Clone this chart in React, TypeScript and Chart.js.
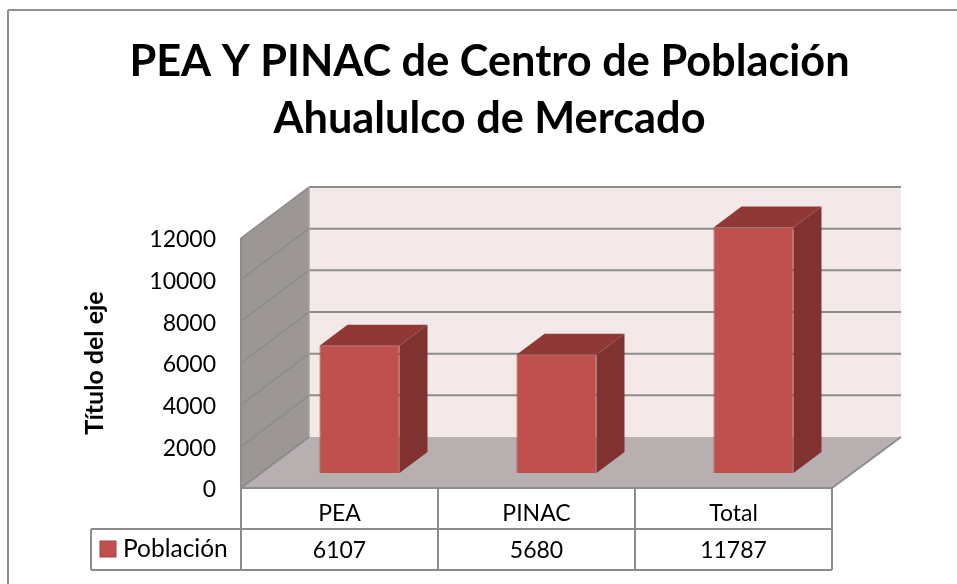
import React, { useEffect, useRef } from "react";
import { Chart, registerables } from "chart.js";

Chart.register(...registerables);

const categories = ["PEA", "PINAC", "Total"];
const poblacion = [6107, 5680, 11787];
const seriesName = "Población";
const titleLines = ["PEA Y PINAC de Centro de Población", "Ahualulco de Mercado"];
const axisTitle = "Título del eje";

const FONT = "Lato, Carlito, 'Open Sans', sans-serif";
const DEPTH_X = 68;
const DEPTH_Y = 51;
const BAR_SHIFT_X = 20;
const BAR_SHIFT_Y = 15;
const BAR_DEPTH_X = 28;
const BAR_DEPTH_Y = 21;
const LINE = "#8c8c8c";

function poly(ctx: CanvasRenderingContext2D, pts: number[][], fill: string) {
  ctx.beginPath();
  pts.forEach((p, i) => (i ? ctx.lineTo(p[0], p[1]) : ctx.moveTo(p[0], p[1])));
  ctx.closePath();
  ctx.fillStyle = fill;
  ctx.fill();
}

function seg(ctx: CanvasRenderingContext2D, x0: number, y0: number, x1: number, y1: number, color: string, w: number) {
  ctx.strokeStyle = color;
  ctx.lineWidth = w;
  ctx.beginPath();
  ctx.moveTo(x0, y0);
  ctx.lineTo(x1, y1);
  ctx.stroke();
}

const scene3d = {
  id: "scene3d",
  afterLayout(chart: any) {
    // the reference's tick digits sit about 2px below the Lato middle baseline
    chart.scales.y.getLabelItems().forEach((item: any) => {
      item.options.translation[1] += 2;
    });
  },
  beforeDraw(chart: any) {
    const { ctx, width, height } = chart;
    ctx.save();
    ctx.fillStyle = "#ffffff";
    ctx.fillRect(0, 0, width, height);
    seg(ctx, 8, 10, width, 10, "#8e8e8e", 2);
    seg(ctx, 8, 10, 8, height, "#8e8e8e", 2);
    ctx.restore();
  },
  beforeDatasetsDraw(chart: any) {
    const { ctx, chartArea: a, scales } = chart;
    const y = scales.y;
    const L = a.left, R = a.right, T = a.top, B = a.bottom;
    const dx = DEPTH_X, dy = DEPTH_Y;
    ctx.save();
    // back wall, side wall, floor
    poly(ctx, [[L + dx, T - dy], [R + dx + 1, T - dy], [R + dx + 1, B - dy], [L + dx, B - dy]], "#f4e9e9");
    poly(ctx, [[L, T], [L + dx, T - dy], [L + dx, B - dy], [L, B]], "#9c9695");
    poly(ctx, [[L, B], [L + dx, B - dy], [R + dx + 1, B - dy], [R, B]], "#b8afb0");
    // gridlines from the value scale
    y.ticks.forEach((t: any) => {
      const py = y.getPixelForValue(t.value);
      if (t.value > 0) seg(ctx, L + dx, py - dy, R + dx + 1, py - dy, LINE, 2);
      seg(ctx, L, py, L + dx, py - dy, LINE, t.value === 0 ? 2 : 1.5);
    });
    seg(ctx, L + dx, T - dy, L + dx, B - dy, "#a8a3a3", 1.5);
    seg(ctx, L, T, L, B, LINE, 2);
    seg(ctx, R, B, R + dx + 1, B - dy, LINE, 2);

    // data table
    const xs = scales.x;
    const rows = [B, 529, 570];
    const left = 91;
    const step = (R - L) / categories.length;
    seg(ctx, L, rows[0], R, rows[0], LINE, 2);
    seg(ctx, left, rows[1], R, rows[1], LINE, 2);
    seg(ctx, left, rows[2], R, rows[2], LINE, 2);
    seg(ctx, left, rows[1], left, rows[2], LINE, 2);
    for (let i = 0; i <= categories.length; i++) seg(ctx, L + i * step, rows[0], L + i * step, rows[2], LINE, 2);
    ctx.fillStyle = "#000";
    ctx.font = `23px ${FONT}`;
    ctx.textAlign = "center";
    ctx.textBaseline = "alphabetic";
    poblacion.forEach((v, i) => ctx.fillText(String(v), xs.getPixelForValue(i), 558));
    ctx.fillStyle = "#c0504d";
    ctx.fillRect(100, 541, 16, 16);
    ctx.strokeStyle = "#a5423f";
    ctx.lineWidth = 1;
    ctx.strokeRect(100, 541, 16, 16);
    ctx.fillStyle = "#000";
    ctx.textAlign = "left";
    ctx.font = `24.5px ${FONT}`;
    ctx.fillText(seriesName, 123, 557);

    // bar sides and tops
    chart.getDatasetMeta(0).data.forEach((b: any) => {
      const x1 = b.x + b.width / 2 + BAR_SHIFT_X;
      const x0 = b.x - b.width / 2 + BAR_SHIFT_X;
      const yt = b.y - BAR_SHIFT_Y;
      const yb = b.base - BAR_SHIFT_Y;
      poly(ctx, [[x1, yt], [x1 + BAR_DEPTH_X, yt - BAR_DEPTH_Y], [x1 + BAR_DEPTH_X, yb - BAR_DEPTH_Y], [x1, yb]], "#7f3230");
      poly(ctx, [[x0, yt], [x0 + BAR_DEPTH_X, yt - BAR_DEPTH_Y], [x1 + BAR_DEPTH_X, yt - BAR_DEPTH_Y], [x1, yt]], "#8f3836");
    });
    ctx.restore();
  },
  beforeDatasetDraw(chart: any) {
    chart.ctx.save();
    chart.ctx.translate(BAR_SHIFT_X, -BAR_SHIFT_Y);
  },
  afterDatasetDraw(chart: any) {
    chart.ctx.restore();
  },
};

export default function App() {
  const ref = useRef<HTMLCanvasElement | null>(null);
  useEffect(() => {
    if (!ref.current) return;
    const chart = new Chart(ref.current, {
      type: "bar",
      data: {
        labels: categories,
        datasets: [
          {
            label: seriesName,
            data: poblacion,
            backgroundColor: "#c0504d",
            borderColor: "#a5423f",
            borderWidth: 1,
            barPercentage: 0.406,
            categoryPercentage: 1,
            clip: false,
          } as any,
        ],
      },
      options: {
        responsive: false,
        animation: false,
        events: [],
        layout: { padding: { left: 22, right: 0, top: 0, bottom: 0 } },
        plugins: {
          legend: { display: false },
          tooltip: { enabled: false },
          title: {
            display: true,
            text: titleLines,
            color: "#000",
            font: { family: FONT, size: 43.3, weight: "bold", lineHeight: 1.33 },
            padding: { top: 33, bottom: 89.8 },
          },
        },
        scales: {
          x: {
            grid: { display: false, drawTicks: false },
            border: { display: false },
            ticks: { color: "#000", font: { family: FONT, size: 23 }, padding: 12, maxRotation: 0 },
            afterFit: (s: any) => { s.height = 96; },
          },
          y: {
            min: 0,
            max: 12000,
            grid: { display: false, drawTicks: false },
            border: { display: false },
            ticks: {
              stepSize: 2000,
              color: "#000",
              font: { family: FONT, size: 23 },
              padding: 25,
              callback: (v: any) => String(v),
            },
            title: {
              display: true,
              text: axisTitle,
              color: "#000",
              font: { family: FONT, size: 25, weight: "bold" },
              padding: { top: 58, bottom: 0 },
            },
            afterFit: (s: any) => { s.width = 219; },
          },
          spare: {
            position: "right",
            grid: { display: false, drawTicks: false },
            border: { display: false },
            ticks: { display: false },
            afterFit: (s: any) => { s.width = 125; },
          },
        },
      } as any,
      plugins: [scene3d],
    });
    return () => chart.destroy();
  }, []);
  return (
    <canvas
      ref={ref}
      width={957}
      height={584}
      style={{ position: "fixed", left: 0, top: 0, display: "block" }}
    />
  );
}
